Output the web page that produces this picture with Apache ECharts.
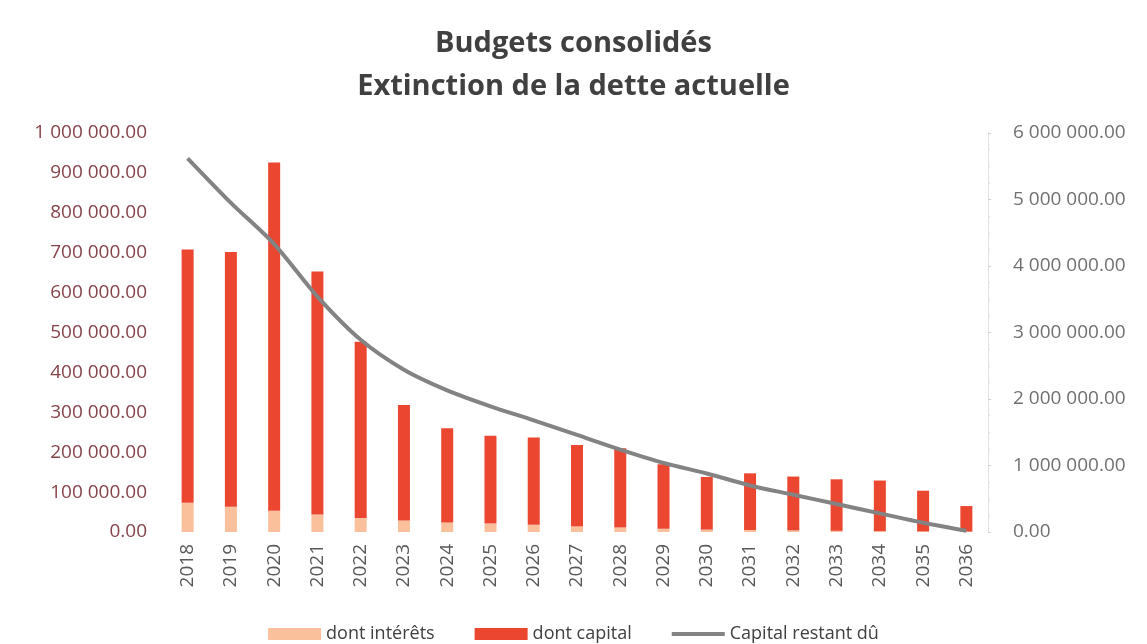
<!DOCTYPE html>
<html><head><meta charset="utf-8">
<script src="https://cdn.jsdelivr.net/npm/echarts@6/dist/echarts.min.js"></script>
<style>html,body{margin:0;padding:0;background:#fff}#c{width:1147px;height:644px}</style>
</head><body><div id="c"></div>
<script>
const years = ['2018','2019','2020','2021','2022','2023','2024','2025','2026','2027','2028','2029','2030','2031','2032','2033','2034','2035','2036'];
const interets = [73000,63000,53000,44000,35000,29000,24000,21000,18000,14000,11000,8000,6000,5000,4000,3000,2000,1500,1000];
const capital = [635000,639000,873000,609000,442000,289000,236000,220000,219000,204000,199000,162000,132000,142000,135000,129000,127000,102000,64000];
const restant = [5620000,4950000,4330000,3540000,2890000,2440000,2130000,1890000,1680000,1460000,1240000,1040000,880000,700000,560000,420000,280000,140000,20000];
const leftTicks = [0,100000,200000,300000,400000,500000,600000,700000,800000,900000,1000000];
const rightTicks = [0,1000000,2000000,3000000,4000000,5000000,6000000];

function fmt(v){
  const s = Math.round(v).toString().replace(/\B(?=(\d{3})+(?!\d))/g,' ');
  return s + '.00';
}
const chart = echarts.init(document.getElementById('c'));
chart.setOption({
  animation:false,
  backgroundColor:'#fff',
  title:{
    text:'Budgets consolidés\nExtinction de la dette actuelle',
    left:'center', top:17,
    textStyle:{fontFamily:'Open Sans',fontWeight:'bold',fontSize:29,color:'#404040',lineHeight:43}
  },
  legend:{
    top:620, left:'center', itemWidth:53, itemHeight:12, itemGap:40,
    textStyle:{fontFamily:'Open Sans',fontSize:18,color:'#404040'},
    data:[{name:'dont intérêts',icon:'rect'},{name:'dont capital',icon:'rect'},
      {name:'Capital restant dû',icon:'path://M0,0 L0.01,0 L0.01,0.01 Z M0,4 L53,4 L53,8 L0,8 Z M0,12 L0.01,12 L0.01,11.99 Z',itemStyle:{color:'#838383',borderWidth:0}}]
  },
  grid:{left:166,right:159,top:133,bottom:112},
  xAxis:{
    type:'category', data:years,
    axisLine:{show:false}, axisTick:{show:false},
    axisLabel:{rotate:90,fontFamily:'Open Sans',fontSize:19,color:'#595959',margin:12}
  },
  yAxis:[
    {type:'value',min:0,max:1000000,interval:100000,
     splitLine:{show:false},axisLine:{show:false},axisTick:{show:false},
     axisLabel:{formatter:fmt,fontFamily:'Open Sans',fontSize:19,color:'#85444a',margin:19}},
    {type:'value',min:0,max:6000000,interval:1000000,
     splitLine:{show:false},
     axisLine:{show:true,lineStyle:{color:'#e2e2e2',width:1}},
     axisTick:{show:true,length:3,lineStyle:{color:'#d0d0d0'}},
     minorTick:{show:true,splitNumber:4,length:2,lineStyle:{color:'#e0e0e0'}},
     axisLabel:{formatter:fmt,fontFamily:'Open Sans',fontSize:19,color:'#707070',margin:25}}
  ],
  series:[
    {name:'dont intérêts',type:'bar',stack:'t',data:interets,barWidth:12,itemStyle:{color:'#f9c09b'}},
    {name:'dont capital',type:'bar',stack:'t',data:capital,barWidth:12,itemStyle:{color:'#ea4630'}},
    {name:'Capital restant dû',type:'line',yAxisIndex:1,data:restant,smooth:0.3,symbol:'none',
     lineStyle:{color:'#838383',width:4},itemStyle:{color:'#838383'}}
  ]
});
</script></body></html>
